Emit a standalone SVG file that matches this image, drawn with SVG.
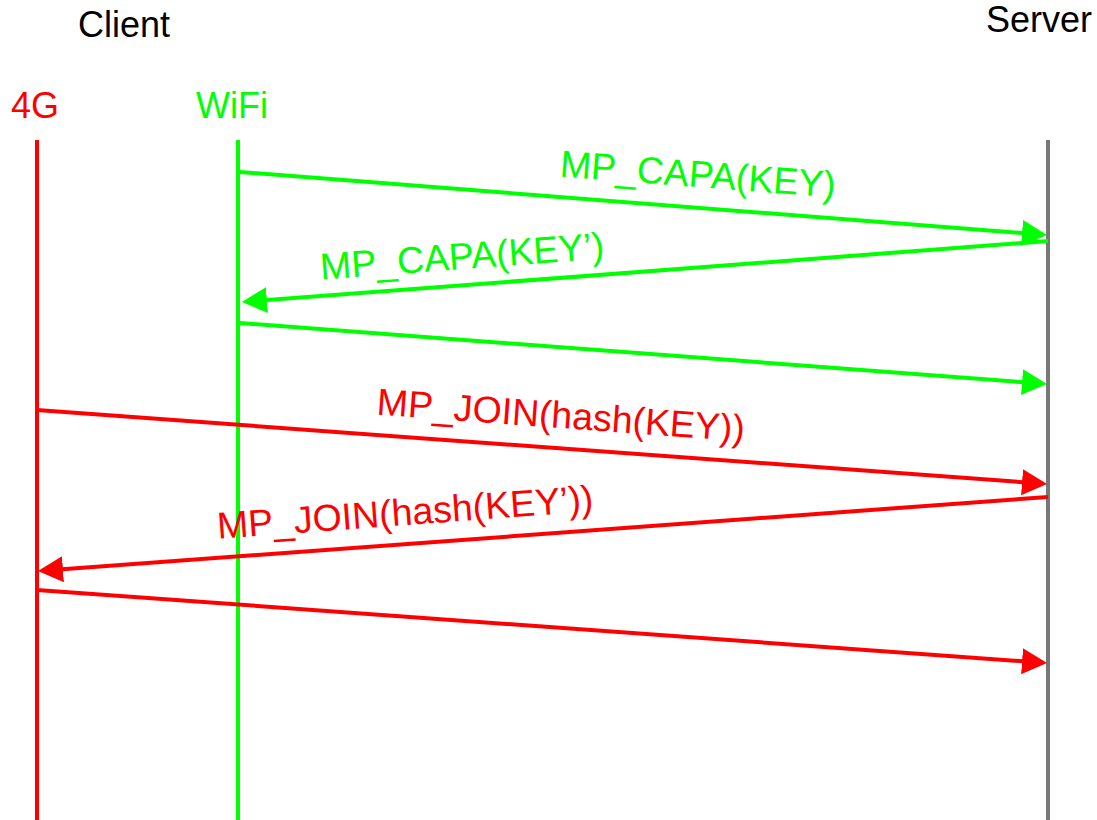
<svg xmlns="http://www.w3.org/2000/svg" width="1097" height="820" viewBox="0 0 1097 820">
<style>
  text { font-family: "Liberation Sans", Arial, sans-serif; font-size: 36px; }
  .lbl { font-size: 37.5px; }
  .black { fill: #000000; }
  .red { fill: #ff0000; }
  .green { fill: #00ff00; }
  .life { stroke-width: 4; fill: none; }
  .msg { stroke-width: 4; fill: none; }
</style>
<defs>
  <marker id="ahG" markerUnits="userSpaceOnUse" viewBox="0 0 25 26" markerWidth="25" markerHeight="26" refX="21" refY="13" orient="auto">
    <path d="M0,0 L25,13 L0,26 z" fill="#00ff00"/>
  </marker>
  <marker id="ahR" markerUnits="userSpaceOnUse" viewBox="0 0 25 26" markerWidth="25" markerHeight="26" refX="21" refY="13" orient="auto">
    <path d="M0,0 L25,13 L0,26 z" fill="#ff0000"/>
  </marker>
</defs>
<rect width="1097" height="820" fill="#ffffff"/>
<g id="client">
  <text class="black" x="124" y="37" text-anchor="middle">Client</text>
</g>
<g id="server">
  <text class="black" x="1039" y="32" text-anchor="middle">Server</text>
  <line class="life" x1="1048" y1="140" x2="1048" y2="820" stroke="#777777"/>
</g>
<g id="lane-4g">
  <text class="red" x="35" y="118" text-anchor="middle">4G</text>
  <line class="life" x1="37" y1="140" x2="37" y2="820" stroke="#ff0000"/>
</g>
<g id="lane-wifi">
  <text class="green" x="232" y="118" text-anchor="middle">WiFi</text>
  <line class="life" x1="238" y1="140" x2="238" y2="820" stroke="#00ff00"/>
</g>
<g id="connectors">
  <path class="msg" d="M240,172 L1043,234.7" stroke="#00ff00" marker-end="url(#ahG)"/>
  <path class="msg" d="M1048,241 L246,301.7" stroke="#00ff00" marker-end="url(#ahG)"/>
  <path class="msg" d="M240,323 L1043,383.7" stroke="#00ff00" marker-end="url(#ahG)"/>
  <path class="msg" d="M37,410 L1043,483.7" stroke="#ff0000" marker-end="url(#ahR)"/>
  <path class="msg" d="M1048,497 L42,570.7" stroke="#ff0000" marker-end="url(#ahR)"/>
  <path class="msg" d="M37,590 L1043,662.7" stroke="#ff0000" marker-end="url(#ahR)"/>
  <text class="green lbl" x="697" y="187" text-anchor="middle" transform="rotate(4.4 697 187)">MP_CAPA(KEY)</text>
  <text class="green lbl" x="463" y="269" text-anchor="middle" transform="rotate(-4.3 463 269)">MP_CAPA(KEY’)</text>
  <text class="red lbl" x="560" y="428" text-anchor="middle" transform="rotate(4.2 560 428)">MP_JOIN(hash(KEY))</text>
  <text class="red lbl" x="406" y="525" text-anchor="middle" transform="rotate(-4.2 406 525)">MP_JOIN(hash(KEY’))</text>
</g>
</svg>
